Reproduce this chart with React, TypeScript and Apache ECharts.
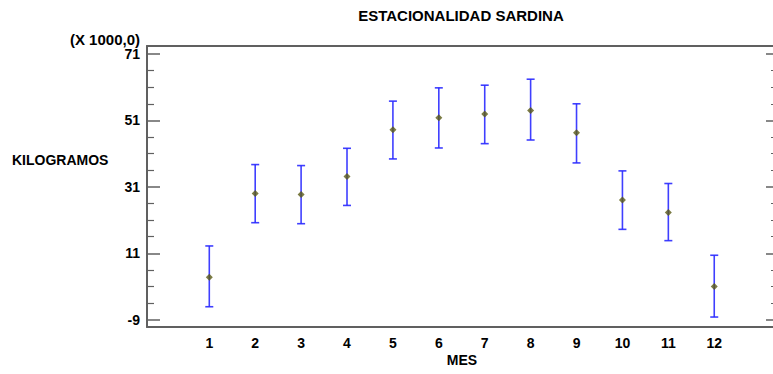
import React, { useEffect, useRef } from "react";
import * as echarts from "echarts";

const months = [1, 2, 3, 4, 5, 6, 7, 8, 9, 10, 11, 12];
const means = [3.8, 29.0, 28.7, 34.1, 48.2, 51.8, 52.9, 54.0, 47.3, 27.0, 23.3, 1.0];
const upper = [13.2, 37.7, 37.4, 42.6, 56.8, 60.8, 61.6, 63.4, 56.0, 35.8, 32.0, 10.4];
const lower = [-5.1, 20.2, 19.9, 25.4, 39.4, 42.7, 44.0, 45.1, 38.2, 18.2, 14.8, -8.2];
const yMajorTicks = [-9, 11, 31, 51, 71];
const yMinorTicks = [-4, 1, 6, 16, 21, 26, 36, 41, 46, 56, 61, 66];

const FONT = "'Liberation Sans', Arial, sans-serif";
const AXIS = "#606060";
const Y_MIN = -11.2;
const Y_MAX = 73.4;

export default function App() {
  const ref = useRef<HTMLDivElement>(null);
  useEffect(() => {
    if (!ref.current) return;
    const chart = echarts.init(ref.current, null, { renderer: "svg" });
    const yBase = { type: "value", min: Y_MIN, max: Y_MAX, splitLine: { show: false } };
    chart.setOption({
      animation: false,
      backgroundColor: "#ffffff",
      grid: { left: 147, top: 46, right: -1, bottom: 47 },
      xAxis: [
        {
          type: "value",
          min: -0.357,
          max: 13.28,
          position: "bottom",
          splitLine: { show: false },
          axisLine: { show: true, onZero: false, lineStyle: { color: AXIS, width: 2 } },
          axisTick: { show: false },
          axisLabel: {
            customValues: months,
            fontFamily: FONT,
            fontWeight: "bold",
            fontSize: 14,
            color: "#000",
            margin: 9,
          },
        },
        {
          type: "value",
          min: -0.357,
          max: 13.28,
          position: "top",
          splitLine: { show: false },
          axisLine: { show: true, onZero: false, lineStyle: { color: AXIS, width: 2 } },
          axisTick: { show: false },
          axisLabel: { show: false },
        },
      ],
      yAxis: [
        {
          ...yBase,
          position: "left",
          axisLine: { show: true, onZero: false, lineStyle: { color: AXIS, width: 2 } },
          axisTick: {
            show: true,
            inside: true,
            length: 13,
            customValues: yMajorTicks,
            lineStyle: { color: AXIS, width: 1.5 },
          },
          axisLabel: {
            customValues: yMajorTicks,
            fontFamily: FONT,
            fontWeight: "bold",
            fontSize: 14,
            color: "#000",
            margin: 7,
          },
        },
        {
          ...yBase,
          position: "left",
          axisLine: { show: false, onZero: false },
          axisTick: {
            show: true,
            inside: true,
            length: 7,
            customValues: yMinorTicks,
            lineStyle: { color: AXIS, width: 1.2 },
          },
          axisLabel: { show: false },
        },
        {
          ...yBase,
          position: "right",
          axisLine: { show: false, onZero: false },
          axisTick: {
            show: true,
            inside: true,
            length: 7,
            customValues: yMajorTicks,
            lineStyle: { color: AXIS, width: 1.5 },
          },
          axisLabel: { show: false },
        },
        {
          ...yBase,
          position: "right",
          axisLine: { show: false, onZero: false },
          axisTick: {
            show: true,
            inside: true,
            length: 2,
            customValues: yMinorTicks,
            lineStyle: { color: AXIS, width: 1.2 },
          },
          axisLabel: { show: false },
        },
      ],
      graphic: [
        {
          type: "text",
          x: 461,
          y: 15,
          style: {
            text: "ESTACIONALIDAD SARDINA",
            font: `bold 15px ${FONT}`,
            fill: "#000",
            textAlign: "center",
            textVerticalAlign: "middle",
          },
        },
        {
          type: "text",
          x: 140,
          y: 39,
          style: {
            text: "(X 1000,0)",
            font: `bold 15px ${FONT}`,
            fill: "#000",
            textAlign: "right",
            textVerticalAlign: "middle",
          },
        },
        {
          type: "text",
          x: 12,
          y: 160,
          style: {
            text: "KILOGRAMOS",
            font: `bold 14px ${FONT}`,
            fill: "#000",
            textAlign: "left",
            textVerticalAlign: "middle",
          },
        },
        {
          type: "text",
          x: 462,
          y: 360,
          style: {
            text: "MES",
            font: `bold 14px ${FONT}`,
            fill: "#000",
            textAlign: "center",
            textVerticalAlign: "middle",
          },
        },
      ],
      series: [
        {
          type: "custom",
          xAxisIndex: 0,
          yAxisIndex: 0,
          data: months.map((m, i) => [m, lower[i], upper[i]]),
          encode: { x: 0, y: [1, 2] },
          renderItem: (params: any, api: any) => {
            const x = api.value(0);
            const top = api.coord([x, api.value(2)]);
            const bot = api.coord([x, api.value(1)]);
            const hw = 4;
            const style = { stroke: "#2a2aff", lineWidth: 1.6, opacity: 0.9 };
            return {
              type: "group",
              children: [
                { type: "line", shape: { x1: top[0], y1: top[1], x2: bot[0], y2: bot[1] }, style },
                { type: "line", shape: { x1: top[0] - hw, y1: top[1], x2: top[0] + hw, y2: top[1] }, style },
                { type: "line", shape: { x1: bot[0] - hw, y1: bot[1], x2: bot[0] + hw, y2: bot[1] }, style },
              ],
            };
          },
          z: 2,
        },
        {
          type: "scatter",
          xAxisIndex: 0,
          yAxisIndex: 0,
          data: months.map((m, i) => [m, means[i]]),
          symbol: "diamond",
          symbolSize: 7,
          itemStyle: { color: "#5a5a14" },
          z: 3,
        },
      ],
    });
    return () => chart.dispose();
  }, []);
  return (
    <div
      ref={ref}
      style={{ position: "absolute", left: 0, top: 0, width: 773, height: 374 }}
    />
  );
}
